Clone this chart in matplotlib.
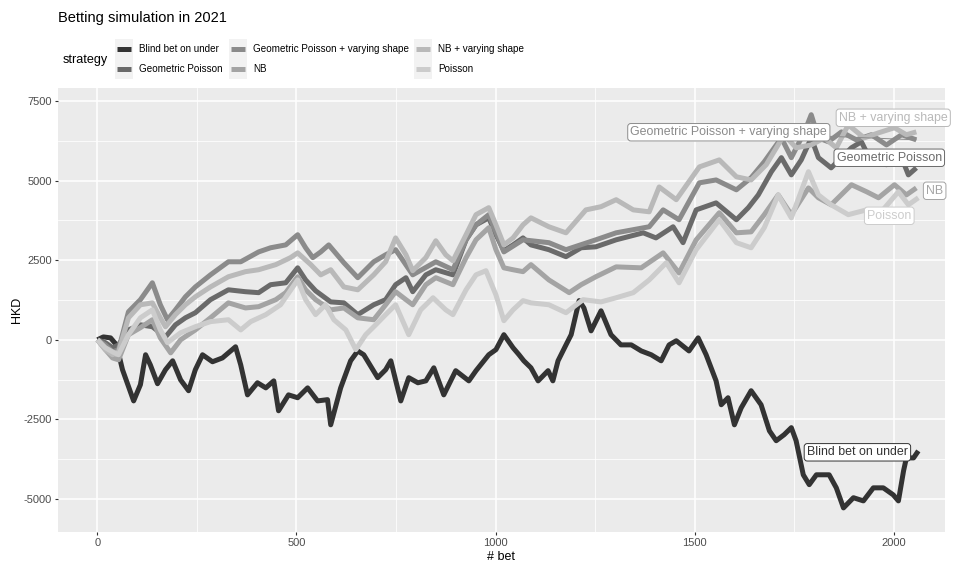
import matplotlib
matplotlib.use("Agg")
import matplotlib.pyplot as plt
from matplotlib.patches import Rectangle
from matplotlib.lines import Line2D

plt.rcParams['font.family'] = ['Liberation Sans', 'DejaVu Sans']

# ---------------- data ----------------
strategies = ["Blind bet on under", "Geometric Poisson", "Geometric Poisson + varying shape",
              "NB", "NB + varying shape", "Poisson"]
colors = ["#333333", "#6A6A6A", "#8B8B8B", "#A4A4A4", "#B9B9B9", "#CCCCCC"]

blind_bet = [0, 15, 33, 48, 63, 91, 108, 121, 133, 151, 171, 189, 209, 229, 246, 264, 289, 314, 347, 360,
             377, 402, 423, 443, 455, 480, 503, 528, 553, 578, 586, 611, 636, 654, 669, 704, 724, 737, 762, 782,
             805, 825, 845, 870, 900, 933, 951, 983, 1001, 1021, 1044, 1059, 1071, 1089, 1107, 1132, 1144, 1157,
             1177, 1190, 1210, 1222, 1240, 1265, 1290, 1315, 1341, 1366, 1391, 1416, 1436, 1454, 1486, 1509,
             1529, 1554, 1567, 1584, 1600, 1617, 1642, 1667, 1688, 1705, 1725, 1743, 1755, 1773, 1788, 1806,
             1838, 1856, 1874, 1899, 1924, 1949, 1974, 1999, 2012, 2025, 2032, 2050, 2062]
blind_val = [0, 90, 60, -160, -940, -1920, -1410, -470, -790, -1380, -940, -660, -1260, -1600, -940, -470,
             -690, -570, -220, -790, -1730, -1350, -1510, -1290, -2230, -1730, -1820, -1510, -1920, -1880,
             -2670, -1510, -660, -350, -470, -1190, -940, -660, -1920, -1190, -1350, -1290, -880, -1730, -970,
             -1290, -970, -470, -310, 160, -250, -470, -660, -880, -1290, -970, -1290, -660, -160, 160, 1230,
             1000, 280, 910, 160, -160, -160, -350, -470, -660, -160, -30, -350, 60, -470, -1290, -2040, -1820,
             -2670, -2140, -1600, -2040, -2860, -3170, -2980, -2760, -3170, -4240, -4550, -4240, -4240, -4650,
             -5280, -4960, -5060, -4650, -4650, -4870, -5060, -4110, -3710, -3710, -3490]

gp_bet = [0, 20, 38, 53, 78, 108, 138, 171, 196, 221, 246, 284, 329, 372, 405, 435, 473, 503, 523, 548, 586,
          619, 654, 694, 724, 749, 775, 792, 825, 850, 893, 926, 951, 983, 1001, 1021, 1044, 1069, 1089, 1134,
          1177, 1215, 1252, 1303, 1371, 1403, 1446, 1471, 1504, 1554, 1605, 1635, 1660, 1693, 1718, 1743, 1768,
          1793, 1811, 1843, 1894, 1919, 1944, 1982, 2020, 2037, 2057]
gp_val = [0, -90, -250, -160, 310, 470, 410, 90, 470, 690, 850, 1260, 1570, 1510, 1480, 1730, 1790, 2260, 1880,
          1540, 1190, 1160, 790, 1100, 1260, 1730, 1950, 1510, 2040, 2200, 2040, 3140, 3610, 3830, 3300, 2800,
          2980, 3200, 2980, 2830, 2610, 2890, 2920, 3140, 3360, 3200, 3550, 3050, 4080, 4300, 3770, 4150, 4550,
          5280, 5720, 5180, 5650, 6340, 5720, 5400, 6030, 6220, 5590, 5500, 5720, 5180, 5400]

gpv_bet = [0, 20, 38, 53, 78, 108, 138, 158, 176, 196, 221, 246, 284, 329, 360, 405, 435, 473, 503, 523, 541,
           561, 581, 619, 654, 694, 724, 749, 792, 850, 893, 926, 951, 983, 1021, 1069, 1134, 1177, 1252, 1303,
           1386, 1421, 1461, 1512, 1554, 1605, 1642, 1675, 1718, 1743, 1776, 1793, 1811, 1836, 1869, 1906, 1944,
           1982, 2020, 2057]
gpv_val = [0, -160, -380, -310, 880, 1260, 1790, 1100, 630, 940, 1350, 1660, 2040, 2450, 2450, 2760, 2890, 2980,
           3300, 2890, 2580, 2760, 2980, 2420, 1950, 2450, 2670, 2830, 2040, 2450, 2200, 3140, 3610, 3930, 2760,
           3140, 3050, 2830, 3140, 3360, 3550, 4080, 3770, 4930, 5020, 4710, 5090, 5590, 6340, 5720, 6530, 7070,
           6340, 6220, 6530, 6280, 6440, 6120, 6440, 6280]

nb_bet = [0, 20, 38, 53, 78, 108, 138, 158, 184, 209, 246, 284, 329, 372, 405, 448, 473, 503, 523, 548, 586,
          619, 654, 694, 724, 749, 775, 792, 825, 850, 893, 926, 951, 983, 1001, 1021, 1044, 1069, 1089, 1134,
          1185, 1215, 1252, 1303, 1366, 1421, 1461, 1504, 1562, 1605, 1642, 1675, 1710, 1743, 1786, 1811, 1843,
          1894, 1932, 1962, 2002, 2032, 2057]
nb_val = [0, -310, -570, -630, 160, 380, 630, 60, -410, 0, 310, 690, 1160, 1000, 1040, 1260, 1480, 1980, 1570,
          1260, 940, 1000, 690, 630, 1100, 1510, 1260, 1100, 1730, 1950, 1730, 2580, 3140, 3520, 2830, 2260, 2200,
          2140, 2360, 1880, 1480, 1730, 1980, 2290, 2260, 2730, 2100, 3140, 3990, 3360, 3390, 3930, 4550, 3930,
          4770, 4460, 4240, 4870, 4650, 4460, 4870, 4550, 4770]

nbv_bet = [0, 20, 38, 53, 78, 108, 138, 158, 171, 196, 221, 246, 284, 329, 372, 405, 448, 485, 503, 536, 561,
           586, 619, 654, 694, 724, 749, 775, 792, 825, 850, 875, 893, 926, 951, 983, 1001, 1021, 1044, 1069,
           1089, 1134, 1177, 1227, 1265, 1303, 1346, 1386, 1411, 1454, 1512, 1562, 1605, 1642, 1680, 1725, 1755,
           1793, 1826, 1856, 1886, 1926, 1962, 2002, 2032, 2057]
nbv_val = [0, -310, -470, -380, 690, 1100, 1160, 690, 410, 790, 1100, 1350, 1660, 1980, 2140, 2200, 2360, 2580,
           2730, 2360, 2040, 2200, 1660, 1570, 2040, 2450, 3200, 2670, 2170, 2580, 3110, 2670, 2480, 3300, 3930,
           4150, 3610, 2980, 3200, 3610, 3830, 3550, 3360, 4080, 4180, 4400, 4080, 4020, 4800, 4400, 5430, 5650,
           5120, 5020, 5500, 6440, 6030, 6120, 6340, 6030, 6750, 6340, 6500, 6660, 6440, 6530]

po_bet = [0, 20, 38, 53, 78, 108, 138, 158, 176, 209, 246, 284, 329, 360, 385, 423, 460, 503, 523, 548, 573,
          594, 624, 649, 674, 699, 724, 749, 782, 812, 843, 875, 893, 926, 951, 976, 1001, 1021, 1044, 1069,
          1089, 1134, 1177, 1220, 1265, 1303, 1346, 1386, 1429, 1461, 1504, 1562, 1605, 1642, 1675, 1710, 1743,
          1786, 1811, 1843, 1886, 1932, 1969, 2012, 2037, 2062]
po_val = [0, -250, -380, -470, 160, 690, 940, 310, -90, 220, 410, 570, 630, 310, 570, 790, 1100, 1880, 1260, 790,
          1100, 630, 310, -310, 160, 470, 790, 1100, 160, 940, 1320, 940, 790, 1570, 2040, 2170, 1410, 600, 940,
          1230, 1160, 1100, 850, 1260, 1190, 1320, 1480, 1880, 2420, 1790, 2830, 3770, 3050, 2890, 3520, 4550,
          3830, 5280, 4550, 4240, 3930, 4080, 4020, 4650, 4240, 4460]

series_bets = [blind_bet, gp_bet, gpv_bet, nb_bet, nbv_bet, po_bet]
series_vals = [blind_val, gp_val, gpv_val, nb_val, nbv_val, po_val]

x_ticks = [0, 500, 1000, 1500, 2000]
x_minor = [250, 750, 1250, 1750]
y_ticks = [-5000, -2500, 0, 2500, 5000, 7500]
y_tick_labels = ["-5000", "-2500", "0", "2500", "5000", "7500"]
y_minor = [-3750, -1250, 1250, 3750, 6250]

# label positions (repelled labels) in data coords
label_pos = {
    "Blind bet on under": (1909, -3534),
    "Geometric Poisson": (1989, 5717),
    "Geometric Poisson + varying shape": (1586, 6518),
    "NB": (2103, 4680),
    "NB + varying shape": (1999, 6973),
    "Poisson": (1989, 3895),
}
segment_labels = ["Geometric Poisson + varying shape"]

# ---------------- figure ----------------
W, H = 956, 566
fig = plt.figure(figsize=(W / 100, H / 100), dpi=100)
fig.patch.set_facecolor("white")
pl, pr, pt, pb = 58, 945, 88, 532
ax = fig.add_axes([pl / W, 1 - pb / H, (pr - pl) / W, (pb - pt) / H])
ax.set_facecolor("#EBEBEB")
for s in ax.spines.values():
    s.set_visible(False)
ax.set_xlim(-99, 2129)
ax.set_ylim(-6037, 7908)

ax.set_xticks(x_ticks)
ax.set_xticklabels([str(t) for t in x_ticks])
ax.set_yticks(y_ticks)
ax.set_yticklabels(y_tick_labels)
ax.set_xticks(x_minor, minor=True)
ax.set_yticks(y_minor, minor=True)
ax.grid(which="major", color="white", linewidth=1.1)
ax.grid(which="minor", color="white", linewidth=0.55)
ax.set_axisbelow(True)
ax.tick_params(which="major", length=2.5, width=0.8, color="#333333", labelcolor="#4D4D4D",
               labelsize=8, pad=2)
ax.tick_params(which="minor", length=0)

for name, b, v, c in zip(strategies, series_bets, series_vals, colors):
    ax.plot(b, v, color=c, linewidth=3.6, solid_joinstyle="round", solid_capstyle="butt", zorder=2)

for name, b, v, c in zip(strategies, series_bets, series_vals, colors):
    lx, ly = label_pos[name]
    bbox = dict(boxstyle="round,pad=0.22,rounding_size=0.25", fc="white", ec=c, lw=0.7)
    if name in segment_labels:
        ax.annotate(name, xy=(b[-1], v[-1]), xytext=(lx, ly), textcoords="data",
                    ha="center", va="center", color=c, fontsize=8.9, bbox=bbox,
                    arrowprops=dict(arrowstyle="-", color=c, lw=0.7, shrinkA=0, shrinkB=0),
                    zorder=5, annotation_clip=False)
    else:
        ax.text(lx, ly, name, ha="center", va="center", color=c, fontsize=8.9, bbox=bbox,
                zorder=5, clip_on=False)

# titles
fig.text(58 / W, 1 - 18 / H, "Betting simulation in 2021", fontsize=10.5, ha="left", va="center",
         color="black")
fig.text((pl + pr) / 2 / W, 1 - 557 / H, "# bet", fontsize=9, ha="center", va="center")
fig.text(17 / W, 1 - (pt + pb) / 2 / H, "HKD", fontsize=9, ha="center", va="center", rotation=90)

# legend (manual, ggplot style)
lax = fig.add_axes([0, 0, 1, 1], facecolor="none")
lax.set_xlim(0, W)
lax.set_ylim(H, 0)
lax.axis("off")
lax.text(63, 60, "strategy", fontsize=9.1, ha="left", va="center")
col_key_x = [115, 229, 414]
row_y = [49, 69]
for i, (name, c) in enumerate(zip(strategies, colors)):
    col, row = i // 2, i % 2
    kx, ky = col_key_x[col], row_y[row]
    lax.add_patch(Rectangle((kx, ky - 10), 18, 20, fc="#F2F2F2", ec="none"))
    lax.add_line(Line2D([kx + 2, kx + 16], [ky, ky], color=c, linewidth=3.6, solid_capstyle="butt"))
    lax.text(kx + 24.5, ky, name, fontsize=7.1, ha="left", va="center", color="black")

fig.savefig("out.png", dpi=100)
